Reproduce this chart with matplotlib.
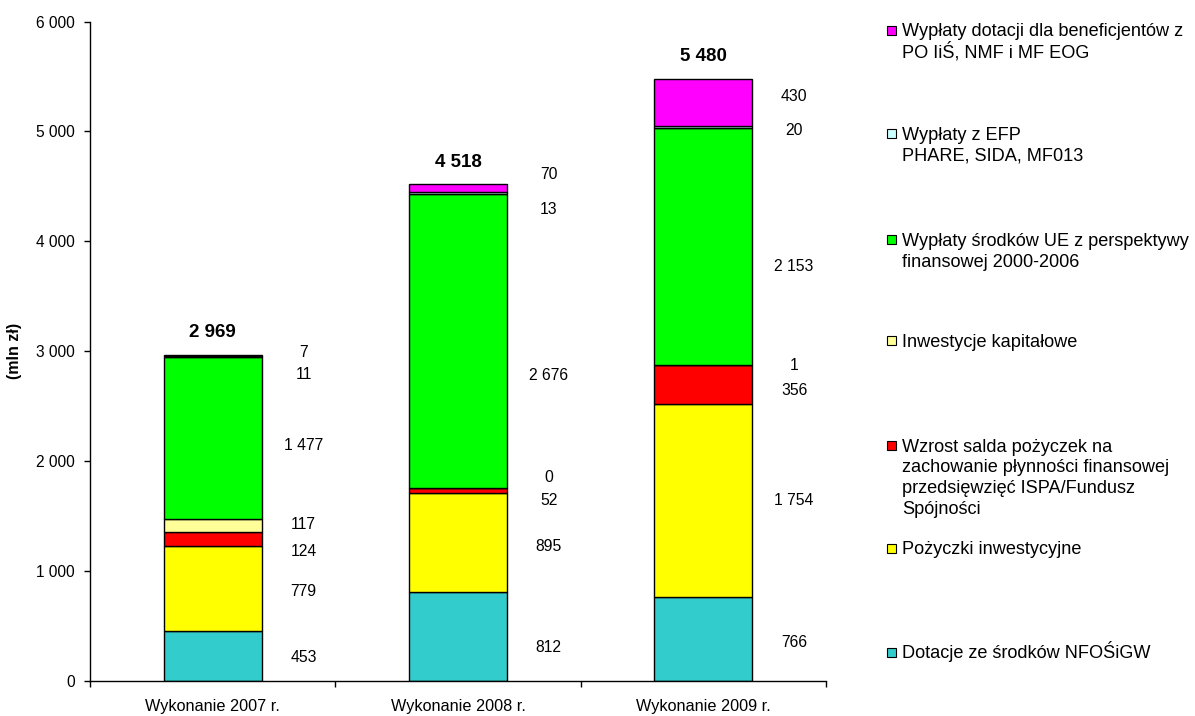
import matplotlib.pyplot as plt
from matplotlib.patches import Rectangle
import numpy as np

plt.rcParams['font.family'] = ['Liberation Sans', 'DejaVu Sans']

# categories and series (mln zl), bottom to top of each stack
years = ['Wykonanie 2007 r.', 'Wykonanie 2008 r.', 'Wykonanie 2009 r.']
dotacje = [453, 812, 766]
pozyczki = [779, 895, 1754]
wzrost_salda = [124, 52, 356]
inwestycje = [117, 0, 1]
ue_2000_2006 = [1477, 2676, 2153]
efp = [11, 13, 20]
po_iis = [7, 70, 430]
totals = [2969, 4518, 5480]

names = ['Dotacje ze środków NFOŚiGW',
         'Pożyczki inwestycyjne',
         'Wzrost salda pożyczek na\nzachowanie płynności finansowej\nprzedsięwzięć ISPA/Fundusz\nSpójności',
         'Inwestycje kapitałowe',
         'Wypłaty środków UE z perspektywy\nfinansowej 2000-2006',
         'Wypłaty z EFP\nPHARE, SIDA, MF013',
         'Wypłaty dotacji dla beneficjentów z\nPO IiŚ, NMF i MF EOG']
colors = ['#33CCCC', '#FFFF00', '#FF0000', '#FFFF99', '#00FF00', '#CCFFFF', '#FF00FF']

# where the value labels sit (data units), nudged like in the original
label_y = [[218, 810, 1174, 1428, 2147, 2784, 2993],
           [309, 1228, 1638, 1847, 2775, 4294, 4612],
           [346, 1638, 2647, 2866, 3775, 5004, 5322]]

def fmt(v):
    return f'{v:,}'.replace(',', ' ')

series = [dotacje, pozyczki, wzrost_salda, inwestycje, ue_2000_2006, efp, po_iis]

fig = plt.figure(figsize=(11.95, 7.16), dpi=100)
ax = fig.add_axes([90/1195, 1-681/716, 736/1195, (681-21.5)/716])

x = np.arange(len(years))
bottom = np.zeros(len(years))
for vals, c in zip(series, colors):
    ax.bar(x, vals, 0.40, bottom=bottom, color=c, edgecolor='black', linewidth=1.0)
    bottom += np.array(vals)

for i in range(len(years)):
    for j, vals in enumerate(series):
        ax.text(x[i] + 0.37, label_y[i][j], fmt(vals[i]), ha='center', va='center',
                fontsize=11.3)
    ax.text(x[i], totals[i] + 200, fmt(totals[i]), ha='center', va='center',
            fontsize=13.5, fontweight='bold')

ax.set_xlim(-0.5, 2.5)
ax.set_ylim(0, 6000)
ax.set_yticks(np.arange(0, 6001, 1000))
ax.set_yticklabels([fmt(v) for v in range(0, 6001, 1000)])
ax.set_xticks([-0.5, 0.5, 1.5, 2.5])
ax.set_xticklabels([])
ax.set_xticks(x, minor=True)
ax.set_xticklabels(years, minor=True)
ax.tick_params(axis='x', which='major', length=4, width=1, direction='out')
ax.tick_params(axis='x', which='minor', length=0, pad=13, labelsize=11.7)
ax.tick_params(axis='y', length=4, width=1, direction='out', pad=7, labelsize=11.2)
for s in ['top', 'right']:
    ax.spines[s].set_visible(False)
ax.spines['left'].set_linewidth(1)
ax.spines['bottom'].set_linewidth(1)
ax.set_ylabel('(mln zł)', fontsize=11.5, fontweight='bold')
ax.yaxis.set_label_coords(-(90-22)/736, 0.5)

# legend, top entry first, placed like the original (one text per line)
leg_y = [30, 133, 240, 340, 445, 548, 652]
for k, yy in enumerate(leg_y):
    idx = len(names) - 1 - k
    fig.patches.append(Rectangle((887/1195, 1-(yy+4.5)/716), 9/1195, 9/716,
                                 transform=fig.transFigure, facecolor=colors[idx],
                                 edgecolor='black', linewidth=0.8))
    for n, line in enumerate(names[idx].split('\n')):
        fig.text(902/1195, 1-(yy + 6.5 + 20.8*n)/716, line, ha='left',
                 va='baseline', fontsize=13.1)

fig.savefig('out.png', dpi=100)
